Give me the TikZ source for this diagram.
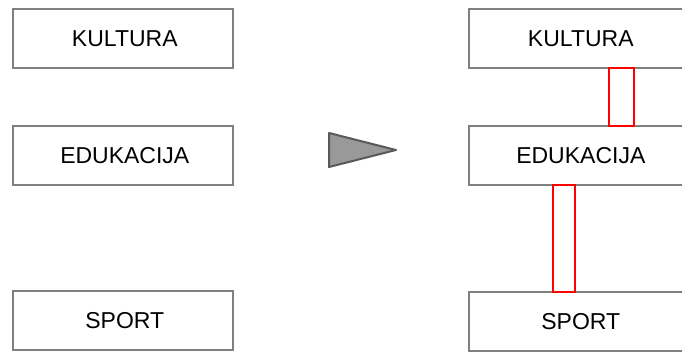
\documentclass[tikz,border=0pt]{standalone}
\usepackage{fontspec}
\setmainfont{Liberation Sans}
\usetikzlibrary{positioning}
\definecolor{boxgrey}{RGB}{128,128,128}
\definecolor{linkred}{RGB}{255,0,0}
\definecolor{pointerdark}{RGB}{89,89,89}
\definecolor{pointerfill}{RGB}{153,153,153}
\tikzset{
  box/.style={rectangle, draw=boxgrey, fill=white, line width=1.6pt, minimum width=220pt, minimum height=59pt, inner sep=0pt, anchor=north west, text width=216pt, align=center, font=\fontsize{23}{27}\selectfont},
  link/.style={rectangle, draw=linkred, line width=1.6pt, inner sep=0pt, anchor=north west},
  pointer/.style={draw=pointerdark, fill=pointerfill, line width=2pt, line join=round},
}

\begin{document}
\begin{tikzpicture}[x=1pt,y=-1pt]
  \useasboundingbox (0,0) rectangle (682,351);
  \clip (0,0) rectangle (682,351);
  % before
  \node[box] (kultura)   at (12,8)   {\hspace*{4pt}KULTURA};
  \node[box] (edukacija) at (12,125) {\hspace*{4pt}EDUKACIJA};
  \node[box] (sport)     at (12,290) {\hspace*{4pt}SPORT};
  % arrow
  \draw[pointer] (329,133) -- (396,150) -- (329,167) -- cycle;
  % after
  \node[box] (kulturaR)   at (468,8)   {\hspace*{4pt}KULTURA};
  \node[box] (edukacijaR) at (468,125) {\hspace*{4pt}EDUKACIJA};
  \node[box] (sportR)     at (468,291) {\hspace*{4pt}SPORT};
  \node[link, minimum width=25pt, minimum height=58pt] (linkA) at (608,67)  {};
  \node[link, minimum width=22pt, minimum height=107pt] (linkB) at (552,184) {};
\end{tikzpicture}
\end{document}
